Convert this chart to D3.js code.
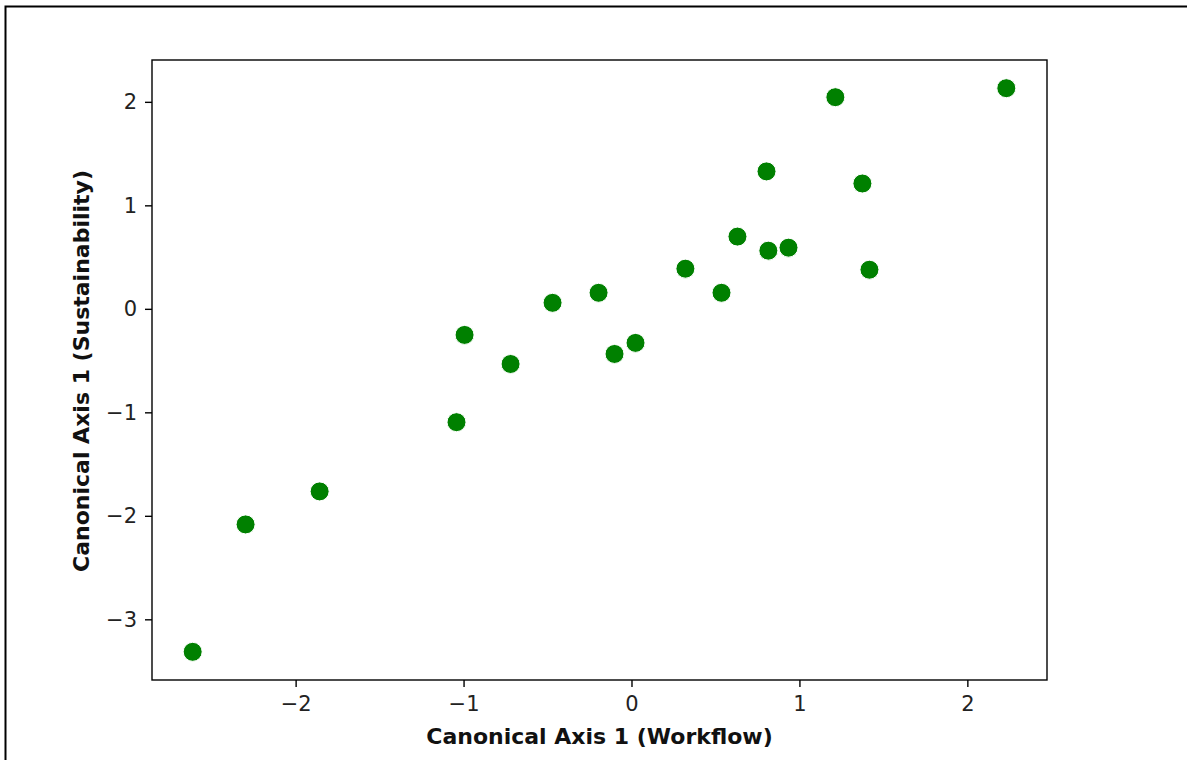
<!DOCTYPE html>
<html>
<head>
<meta charset="utf-8">
<script src="https://cdn.jsdelivr.net/npm/d3@7"></script>
<style>
  html, body { margin: 0; padding: 0; background: #fff; }
  svg { display: block; }
</style>
</head>
<body>
<svg id="chart" width="1187" height="760"></svg>
<script>
const xValues = [-2.613, -2.298, -1.857, -1.042, -0.994, -0.720, -0.470, -0.196, -0.101, 0.024,
                 0.321, 0.536, 0.631, 0.804, 0.815, 0.935, 1.214, 1.375, 1.417, 2.232];
const yValues = [-3.314, -2.083, -1.764, -1.095, -0.252, -0.533, 0.058, 0.155, -0.436, -0.329,
                 0.388, 0.155, 0.698, 1.328, 0.562, 0.591, 2.045, 1.211, 0.378, 2.132];
const xTicks = [-2, -1, 0, 1, 2];
const yTicks = [-3, -2, -1, 0, 1, 2];
const xLabel = "Canonical Axis 1 (Workflow)";
const yLabel = "Canonical Axis 1 (Sustainability)";

const points = xValues.map((x, i) => ({x, y: yValues[i]}));

const svg = d3.select("#chart");
const W = 1187, H = 760;
const plot = {left: 152, top: 60, right: 1047, bottom: 680};

// figure border
svg.append("rect")
  .attr("x", 5.5).attr("y", 6.5)
  .attr("width", W + 20).attr("height", H + 20)
  .attr("fill", "none").attr("stroke", "#000").attr("stroke-width", 2);

const xMin = d3.min(xValues), xMax = d3.max(xValues);
const yMin = d3.min(yValues), yMax = d3.max(yValues);
const xPad = (xMax - xMin) * 0.05, yPad = (yMax - yMin) * 0.05;

const x = d3.scaleLinear().domain([xMin - xPad, xMax + xPad]).range([plot.left, plot.right]);
const y = d3.scaleLinear().domain([yMin - yPad, yMax + yPad]).range([plot.bottom, plot.top]);

const font = "DejaVu Sans, sans-serif";
const fmt = d => (d < 0 ? "\u2212" + Math.abs(d) : String(d));

const xAxis = svg.append("g")
  .attr("transform", `translate(0,${plot.bottom})`)
  .call(d3.axisBottom(x).tickValues(xTicks).tickFormat(fmt).tickSize(7).tickPadding(9));
const yAxis = svg.append("g")
  .attr("transform", `translate(${plot.left},0)`)
  .call(d3.axisLeft(y).tickValues(yTicks).tickFormat(fmt).tickSize(7).tickPadding(8));

[xAxis, yAxis].forEach(g => {
  g.select(".domain").remove();
  g.selectAll("line").attr("stroke", "#000").attr("stroke-width", 1.4);
  g.selectAll("text").attr("font-family", font).attr("font-size", 21).attr("fill", "#222");
});

// points
svg.append("g").selectAll("circle").data(points).join("circle")
  .attr("cx", d => x(d.x))
  .attr("cy", d => y(d.y))
  .attr("r", 9.5)
  .attr("fill", "#008000")
  .attr("stroke", "#ffffff")
  .attr("stroke-width", 1);

// frame
svg.append("rect")
  .attr("x", plot.left).attr("y", plot.top)
  .attr("width", plot.right - plot.left).attr("height", plot.bottom - plot.top)
  .attr("fill", "none").attr("stroke", "#000").attr("stroke-width", 1.4);

// axis labels
svg.append("text")
  .attr("x", (plot.left + plot.right) / 2)
  .attr("y", 744)
  .attr("text-anchor", "middle")
  .attr("font-family", font).attr("font-size", 22).attr("font-weight", "bold")
  .attr("fill", "#111")
  .text(xLabel);

svg.append("text")
  .attr("transform", `translate(89,${(plot.top + plot.bottom) / 2 + 1}) rotate(-90)`)
  .attr("text-anchor", "middle")
  .attr("font-family", font).attr("font-size", 22).attr("font-weight", "bold")
  .attr("fill", "#111")
  .text(yLabel);
</script>
</body>
</html>
